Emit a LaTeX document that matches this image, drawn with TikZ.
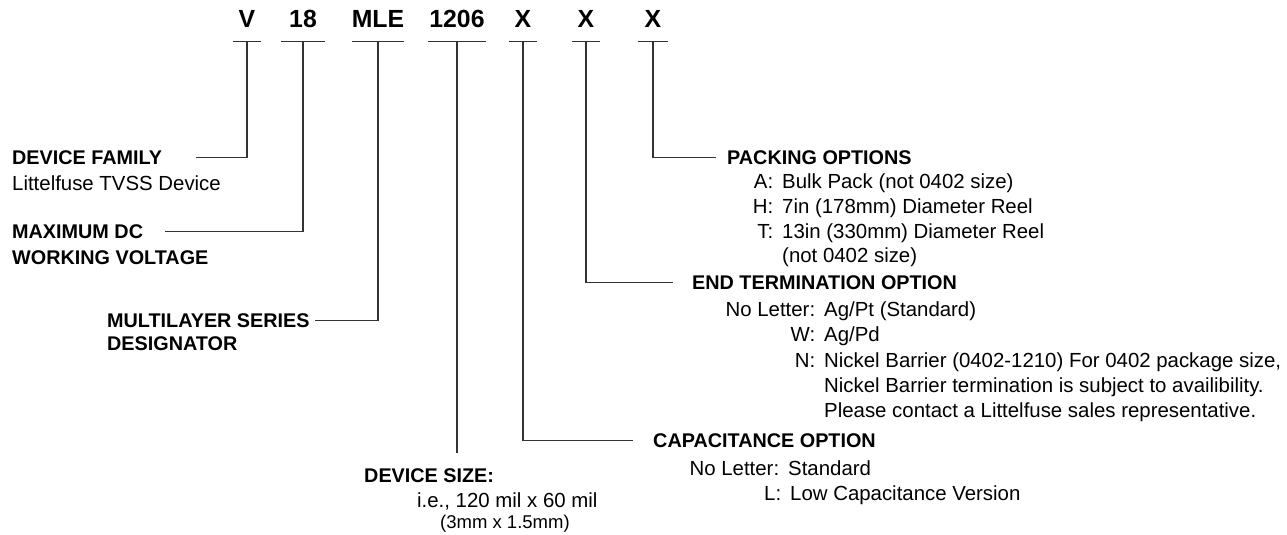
\documentclass[tikz,border=0pt]{standalone}
\usepackage{fontspec}
\setmainfont{Liberation Sans}
\newcommand{\keyval}[2]{\llap{#1:}\hspace{9pt}#2}
\tikzset{
    code/.style={font=\fontsize{24.8}{28}\selectfont\bfseries, inner sep=0pt, anchor=base},
    head/.style={font=\fontsize{19.8}{24}\selectfont\bfseries, inner sep=0pt, anchor=base west},
    body/.style={font=\fontsize{20.4}{25}\selectfont, inner sep=0pt, anchor=base west},
    note/.style={body, font=\fontsize{18.5}{22}\selectfont},
    lead/.style={line width=1.1pt, draw=black!80}
}
\begin{document}
\begin{tikzpicture}[x=1pt, y=-1pt]
    \useasboundingbox (0,0) rectangle (1287,535);

    % part number
    \foreach \n/\t/\x/\w in {cv/V/247/28, c18/18/303/43, cmle/MLE/378/48, csize/1206/457/57,
                             ccap/X/523/27, cend/X/586/27, cpack/X/653/30}{
        \node[code, minimum width=\w] (\n) at (\x,28) {\t};
        \coordinate (\n-u) at ([yshift=-13]\n.south);
        \draw[lead] ([yshift=-13]\n.south west) -- ([yshift=-13]\n.south east);
    }

    % left side
    \node[head] (famhead) at (12,164) {DEVICE FAMILY};
    \node[body] (famtxt) at (12,190) {Littelfuse TVSS Device};
    \node[head] (volthead) at (12,238) {MAXIMUM DC};
    \node[head] (volthead2) at (12,264) {WORKING VOLTAGE};
    \node[head] (serhead) at (107,327) {MULTILAYER SERIES};
    \node[head] (serhead2) at (107,350) {DESIGNATOR};

    % bottom
    \node[head] (sizehead) at (364,482) {DEVICE SIZE:};
    \node[body] (sizetxt) at (417,507) {i.e., 120 mil x 60 mil};
    \node[note] (sizetxt2) at (440,528) {(3mm x 1.5mm)};
    \coordinate (sizeend) at (457,453);

    % right side
    \node[head] (packhead) at (727,164) {PACKING OPTIONS};
    \node[body] (pack1) at (773,188) {\keyval{A}{Bulk Pack (not 0402 size)}};
    \node[body] (pack2) at (773,213) {\keyval{H}{7in (178mm) Diameter Reel}};
    \node[body] (pack3) at (773,238) {\keyval{T}{13in (330mm) Diameter Reel}};
    \node[body] (pack4) at (782,262) {(not 0402 size)};

    \node[head] (endhead) at (692,289) {END TERMINATION OPTION};
    \node[body] (end1) at (815,316) {\keyval{No Letter}{Ag/Pt (Standard)}};
    \node[body] (end2) at (815,341) {\keyval{W}{Ag/Pd}};
    \node[body] (end3) at (815,367) {\keyval{N}{Nickel Barrier (0402-1210) For 0402 package size,}};
    \node[body] (end4) at (824,392) {Nickel Barrier termination is subject to availibility.};
    \node[body] (end5) at (824,417) {Please contact a Littelfuse sales representative.};

    \node[head] (caphead) at (653,447) {CAPACITANCE OPTION};
    \node[body] (cap1) at (779,475) {\keyval{No Letter}{Standard}};
    \node[body] (cap2) at (781,500) {\keyval{L}{Low Capacitance Version}};

    % leaders
    \draw[lead] (cv-u) |- ([xshift=34]famhead.east);
    \draw[lead] (c18-u) |- ([xshift=22]volthead.east);
    \draw[lead] (cmle-u) |- ([xshift=5]serhead.east);
    \draw[lead] (csize-u) -- (sizeend);
    \draw[lead] (ccap-u) |- ([xshift=-20]caphead.west);
    \draw[lead] (cend-u) |- ([xshift=-19]endhead.west);
    \draw[lead] (cpack-u) |- ([xshift=-11]packhead.west);
\end{tikzpicture}
\end{document}
